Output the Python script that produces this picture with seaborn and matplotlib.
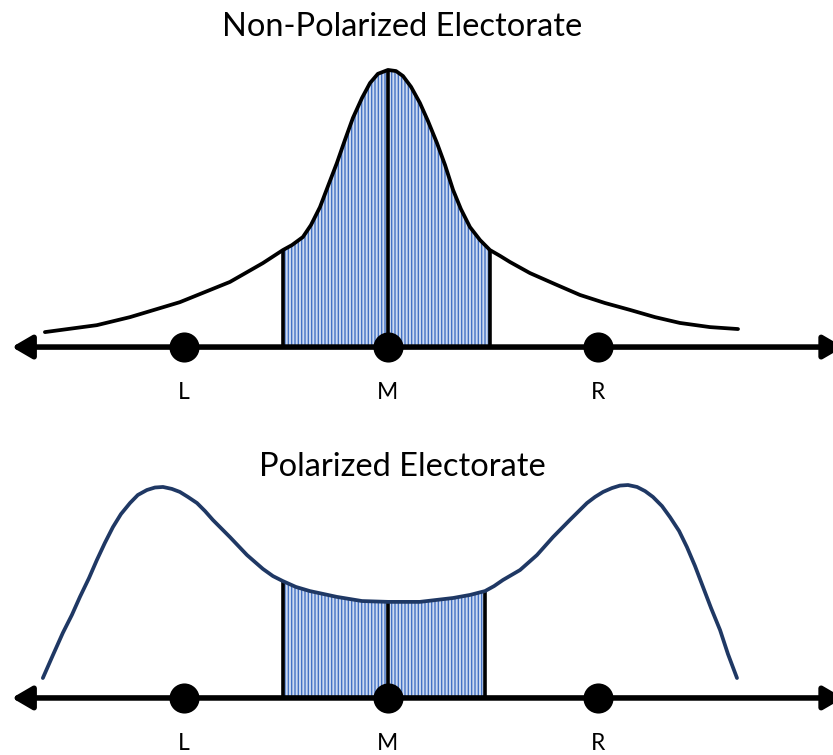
import numpy as np
import seaborn as sns
import matplotlib.pyplot as plt

sns.set_theme(style="white")
plt.rcParams["font.family"] = ["Lato", "DejaVu Sans"]
plt.rcParams["hatch.linewidth"] = 1.0

# === Data (ideology scale: M = 0, L ~ -1, R ~ +1; density scaled so top peak = 1) ===
top_x = [-1.665, -1.413, -1.252, -1.010, -0.767, -0.607, -0.510, -0.466, -0.413, -0.374,
         -0.330, -0.291, -0.248, -0.209, -0.170, -0.126, -0.087, -0.049, 0.000, 0.039,
         0.073, 0.112, 0.155, 0.194, 0.238, 0.277, 0.316, 0.354, 0.398, 0.447,
         0.495, 0.544, 0.592, 0.689, 0.811, 0.932, 1.053, 1.175, 1.296, 1.417,
         1.563, 1.699]
top_y = [0.054, 0.079, 0.108, 0.162, 0.235, 0.303, 0.350, 0.368, 0.397, 0.440,
         0.505, 0.581, 0.664, 0.747, 0.827, 0.899, 0.953, 0.986, 1.000, 0.996,
         0.978, 0.939, 0.881, 0.816, 0.736, 0.657, 0.567, 0.498, 0.433, 0.386,
         0.350, 0.329, 0.307, 0.267, 0.227, 0.188, 0.159, 0.134, 0.108, 0.087,
         0.072, 0.065]

bot_x = [-1.675, -1.626, -1.578, -1.534, -1.495, -1.451, -1.413, -1.374, -1.335, -1.296,
         -1.252, -1.214, -1.170, -1.131, -1.092, -1.049, -1.010, -0.971, -0.927, -0.888,
         -0.850, -0.767, -0.684, -0.607, -0.558, -0.510, -0.447, -0.379, -0.248, -0.126,
         0.000, 0.155, 0.316, 0.398, 0.471, 0.515, 0.558, 0.641, 0.723, 0.801,
         0.883, 0.966, 1.005, 1.044, 1.087, 1.126, 1.165, 1.209, 1.248, 1.286,
         1.330, 1.369, 1.413, 1.451, 1.490, 1.529, 1.568, 1.612, 1.650, 1.694]
bot_y = [0.072, 0.155, 0.235, 0.300, 0.365, 0.433, 0.498, 0.560, 0.617, 0.664,
         0.704, 0.733, 0.751, 0.760, 0.762, 0.755, 0.744, 0.726, 0.704, 0.675,
         0.643, 0.581, 0.516, 0.466, 0.440, 0.422, 0.401, 0.386, 0.365, 0.350,
         0.347, 0.347, 0.361, 0.372, 0.386, 0.404, 0.426, 0.462, 0.516, 0.581,
         0.643, 0.704, 0.726, 0.744, 0.758, 0.767, 0.769, 0.762, 0.747, 0.726,
         0.693, 0.653, 0.603, 0.545, 0.477, 0.401, 0.325, 0.245, 0.159, 0.072]

cand_labels = ["L", "M", "R"]
cand_pos = [-0.99, 0.0, 1.02]

panels = [
    dict(title="Non-Polarized Electorate", x=top_x, y=top_y, lo=-0.510, hi=0.495,
         color="black", rect=[0, 0.457, 1, 0.490], ylim=(-0.227, 1.108), title_y=1 - 27 / 755),
    dict(title="Polarized Electorate", x=bot_x, y=bot_y, lo=-0.510, hi=0.471,
         color="#1f3864", rect=[0, 0.0, 1, 0.417], ylim=(-0.206, 0.931), title_y=1 - 467 / 755),
]

fig = plt.figure(figsize=(8.33, 7.55), dpi=100)

for p in panels:
    ax = fig.add_axes(p["rect"])
    ax.set_xlim(-1.883, 2.160)
    ax.set_ylim(*p["ylim"])
    ax.axis("off")

    x = np.array(p["x"])
    y = np.array(p["y"])

    # shaded middle band
    band = (x >= p["lo"]) & (x <= p["hi"])
    ax.fill_between(x[band], 0, y[band], facecolor="#cddaf1", edgecolor="#4472c4",
                    hatch="|||||", linewidth=0, zorder=1)

    # vertical lines: band edges and median
    for xv in [p["lo"], 0.0, p["hi"]]:
        yv = y[np.argmin(np.abs(x - xv))]
        ax.plot([xv, xv], [0, yv], color="black", lw=2.6, solid_capstyle="butt", zorder=3)

    # distribution curve
    sns.lineplot(x=x, y=y, ax=ax, color=p["color"], lw=2.7, sort=False, zorder=4)
    ax.lines[-1].set_solid_joinstyle("round")

    # axis with arrows at both ends
    ax.annotate("", xy=(-1.825, 0), xytext=(2.21, 0),
                arrowprops=dict(arrowstyle="<|-|>,head_length=0.6,head_width=0.35",
                                mutation_scale=20, lw=4, color="black",
                                shrinkA=0, shrinkB=0),
                annotation_clip=False, zorder=5)

    # candidate positions
    sns.scatterplot(x=cand_pos, y=[0] * 3, ax=ax, s=470, color="black",
                    edgecolor="black", linewidth=0, zorder=6, legend=False)
    for lab, xp in zip(cand_labels, cand_pos):
        ax.text(xp, -0.165, lab, ha="center", va="center", fontsize=16.5, color="black")

    fig.text(402 / 833, p["title_y"], p["title"], ha="center", va="center",
             fontsize=23.5, color="black")

plt.savefig("out.png", dpi=100)
plt.close()
